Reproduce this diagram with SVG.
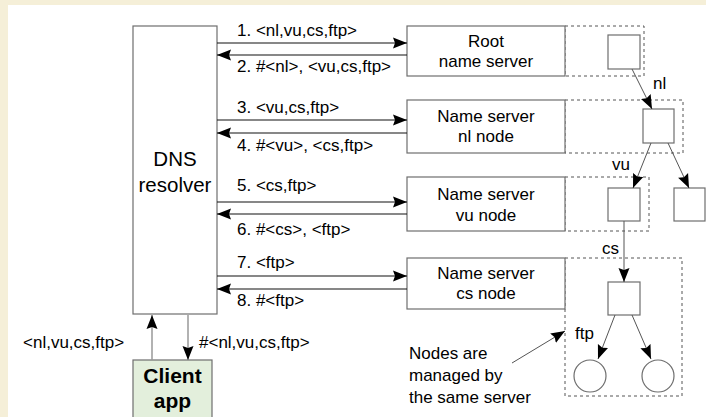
<svg xmlns="http://www.w3.org/2000/svg" width="706" height="417" viewBox="0 0 706 417">
<style>
text{font-family:"Liberation Sans",Arial,sans-serif;font-size:17px;fill:#000}
.c{text-anchor:middle}
.big{font-size:20.5px}
.bold{font-weight:bold;font-size:21px}
.box{fill:#fff;stroke:#6e6e6e;stroke-width:1.2}
.dot{fill:none;stroke:#555;stroke-width:1;stroke-dasharray:3,3}
.msg{stroke:#111;stroke-width:1.2;fill:none}
.tree{stroke:#555;stroke-width:1;fill:none}
.cl{stroke:#999;stroke-width:1.5;fill:none}
</style>
<defs>
<marker id="ah" markerUnits="userSpaceOnUse" markerWidth="15" markerHeight="12" refX="14" refY="6" orient="auto" viewBox="0 0 15 12">
<path d="M0,0.5 L14,6 L0,11.5 L2,6 z" fill="#000"/>
</marker>
</defs>
<rect x="0" y="0" width="706" height="417" fill="#f5efd8"/>
<rect x="8" y="5" width="698" height="412" fill="#fff"/>

<g id="dotted">
<rect class="dot" x="565" y="26" width="79" height="50"/>
<rect class="dot" x="565" y="100" width="118" height="53"/>
<rect class="dot" x="565" y="177" width="84" height="54"/>
<rect class="dot" x="565" y="258" width="117" height="138"/>
</g>

<g id="resolver">
<rect class="box" x="133" y="26" width="84" height="288"/>
<text class="c big" x="175" y="166">DNS</text>
<text class="c big" x="175" y="192">resolver</text>
</g>

<g id="root-server">
<rect class="box" x="407" y="26" width="158" height="50"/>
<text class="c" x="486" y="47">Root</text>
<text class="c" x="486" y="67">name server</text>
</g>
<g id="nl-server">
<rect class="box" x="407" y="100" width="158" height="53"/>
<text class="c" x="486" y="122">Name server</text>
<text class="c" x="486" y="142">nl node</text>
</g>
<g id="vu-server">
<rect class="box" x="407" y="177" width="158" height="54"/>
<text class="c" x="486" y="200">Name server</text>
<text class="c" x="486" y="221">vu node</text>
</g>
<g id="cs-server">
<rect class="box" x="407" y="258" width="158" height="51"/>
<text class="c" x="486" y="279">Name server</text>
<text class="c" x="486" y="299">cs node</text>
</g>

<g id="client">
<rect x="133" y="360" width="79" height="70" fill="#e3efdc" stroke="#6e6e6e" stroke-width="1.2"/>
<text class="c bold" x="172.5" y="383">Client</text>
<text class="c bold" x="172.5" y="408">app</text>
</g>

<g id="tree-nodes">
<rect id="n-root" class="box" x="608" y="35" width="32" height="34"/>
<rect id="n-nl" class="box" x="643" y="109" width="31" height="34"/>
<rect id="n-vu" class="box" x="608" y="188" width="32" height="33"/>
<rect id="n-other" class="box" x="674" y="188" width="31" height="33"/>
<rect id="n-cs" class="box" x="608" y="282" width="32" height="33"/>
<circle id="n-ftp1" class="box" cx="590" cy="376" r="16"/>
<circle id="n-ftp2" class="box" cx="658" cy="376" r="16"/>
</g>

<g id="connectors">
<line class="msg" x1="217" y1="43" x2="407" y2="43" marker-end="url(#ah)"/>
<line class="msg" x1="407" y1="55" x2="217" y2="55" marker-end="url(#ah)"/>
<line class="msg" x1="217" y1="120" x2="407" y2="120" marker-end="url(#ah)"/>
<line class="msg" x1="407" y1="133" x2="217" y2="133" marker-end="url(#ah)"/>
<line class="msg" x1="217" y1="202" x2="407" y2="202" marker-end="url(#ah)"/>
<line class="msg" x1="407" y1="214" x2="217" y2="214" marker-end="url(#ah)"/>
<line class="msg" x1="217" y1="276" x2="407" y2="276" marker-end="url(#ah)"/>
<line class="msg" x1="407" y1="289" x2="217" y2="289" marker-end="url(#ah)"/>

<line class="cl" x1="152" y1="360" x2="152" y2="315" marker-end="url(#ah)"/>
<line class="cl" x1="188" y1="315" x2="188" y2="360" marker-end="url(#ah)"/>

<line class="tree" x1="632" y1="69" x2="652" y2="109" marker-end="url(#ah)"/>
<line class="tree" x1="651" y1="143" x2="633" y2="188" marker-end="url(#ah)"/>
<line class="tree" x1="668" y1="143" x2="689" y2="188" marker-end="url(#ah)"/>
<line class="tree" x1="624" y1="221" x2="624" y2="282" marker-end="url(#ah)"/>
<line class="tree" x1="615" y1="315" x2="598" y2="359" marker-end="url(#ah)"/>
<line class="tree" x1="632" y1="315" x2="651" y2="359" marker-end="url(#ah)"/>
<line class="tree" x1="512" y1="363" x2="565" y2="331" marker-end="url(#ah)"/>
</g>

<g id="labels">
<text x="237" y="36">1. &lt;nl,vu,cs,ftp&gt;</text>
<text x="237" y="72">2. #&lt;nl&gt;, &lt;vu,cs,ftp&gt;</text>
<text x="237" y="113">3. &lt;vu,cs,ftp&gt;</text>
<text x="237" y="151">4. #&lt;vu&gt;, &lt;cs,ftp&gt;</text>
<text x="237" y="191">5. &lt;cs,ftp&gt;</text>
<text x="237" y="235">6. #&lt;cs&gt;, &lt;ftp&gt;</text>
<text x="237" y="268">7. &lt;ftp&gt;</text>
<text x="237" y="306">8. #&lt;ftp&gt;</text>
<text x="23" y="348">&lt;nl,vu,cs,ftp&gt;</text>
<text x="199" y="348">#&lt;nl,vu,cs,ftp&gt;</text>
<text x="653" y="89">nl</text>
<text x="612" y="170">vu</text>
<text x="602" y="254">cs</text>
<text x="575" y="339">ftp</text>
<text x="409" y="359">Nodes are</text>
<text x="409" y="381">managed by</text>
<text x="409" y="403">the same server</text>
</g>
</svg>
